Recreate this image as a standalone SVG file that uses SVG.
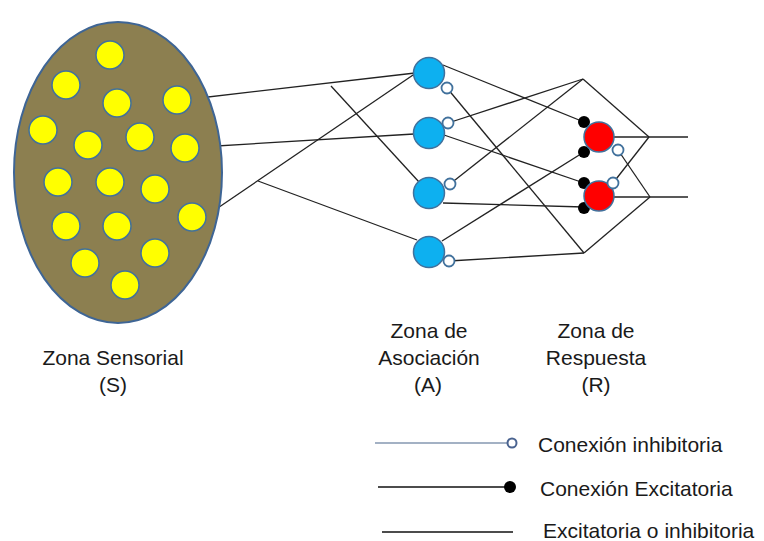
<svg xmlns="http://www.w3.org/2000/svg" width="764" height="541" viewBox="0 0 764 541">
<style>
.bg{fill:#ffffff}
.s{fill:#FFFF00;stroke:#41719C;stroke-width:1.5}
.a{fill:#0DB0F0;stroke:#41719C;stroke-width:1.5}
.r{fill:#FF0000;stroke:#41719C;stroke-width:1.5}
.inh{fill:#ffffff;stroke:#41719C;stroke-width:1.8}
.exc{fill:#000000}
.ln{stroke:#222222;stroke-width:1.3;fill:none}
.t{font-family:"Liberation Sans",Arial,sans-serif;font-size:21px;fill:#1a1a1a;text-anchor:middle}
.lt{font-family:"Liberation Sans",Arial,sans-serif;font-size:21px;fill:#1a1a1a}
</style>
<rect class="bg" x="0" y="0" width="764" height="541"/>
<g id="connectors">
<line class="ln" x1="191" y1="99" x2="415" y2="73"/>
<line class="ln" x1="331" y1="86" x2="419" y2="182"/>
<line class="ln" x1="200" y1="147" x2="414" y2="134"/>
<line class="ln" x1="206" y1="216" x2="416" y2="73"/>
<line class="ln" x1="258" y1="181" x2="417" y2="240"/>
<line class="ln" x1="443" y1="65" x2="584" y2="122"/>
<line class="ln" x1="447" y1="88" x2="584" y2="253"/>
<line class="ln" x1="448" y1="123" x2="583" y2="79"/>
<line class="ln" x1="444" y1="135" x2="584" y2="183"/>
<line class="ln" x1="450" y1="184" x2="583" y2="79"/>
<line class="ln" x1="443" y1="203" x2="584" y2="207"/>
<line class="ln" x1="442" y1="241" x2="584" y2="152"/>
<line class="ln" x1="449" y1="261" x2="584" y2="253"/>
<line class="ln" x1="583" y1="79" x2="649" y2="137"/>
<line class="ln" x1="584" y1="253" x2="650" y2="197"/>
<line class="ln" x1="599" y1="137" x2="688" y2="137"/>
<line class="ln" x1="599" y1="197" x2="688" y2="197"/>
<line class="ln" x1="618" y1="150" x2="650" y2="197"/>
<line class="ln" x1="613" y1="183" x2="649" y2="137"/>
</g>
<g id="sensory-zone">
<ellipse cx="118" cy="172.5" rx="104" ry="150.5" fill="#8C7F50" stroke="#3E6595" stroke-width="2"/>
<circle class="s" cx="110" cy="55" r="14"/>
<circle class="s" cx="66" cy="85" r="14"/>
<circle class="s" cx="117" cy="103" r="14"/>
<circle class="s" cx="177" cy="100" r="14"/>
<circle class="s" cx="43" cy="130" r="14"/>
<circle class="s" cx="88" cy="145" r="14"/>
<circle class="s" cx="140" cy="137" r="14"/>
<circle class="s" cx="185" cy="148" r="14"/>
<circle class="s" cx="58" cy="182" r="14"/>
<circle class="s" cx="110" cy="182" r="14"/>
<circle class="s" cx="155" cy="189" r="14"/>
<circle class="s" cx="192" cy="217" r="14"/>
<circle class="s" cx="66" cy="226" r="14"/>
<circle class="s" cx="117" cy="226" r="14"/>
<circle class="s" cx="85" cy="263" r="14"/>
<circle class="s" cx="155" cy="253" r="14"/>
<circle class="s" cx="125" cy="285" r="14"/>
</g>
<g id="a1"><circle class="a" cx="429" cy="73" r="15.5"/><circle class="inh" cx="447" cy="88" r="5.5"/></g>
<g id="a2"><circle class="a" cx="429" cy="133" r="15.5"/><circle class="inh" cx="448" cy="123" r="5.5"/></g>
<g id="a3"><circle class="a" cx="429" cy="193" r="15.5"/><circle class="inh" cx="450" cy="184" r="5.5"/></g>
<g id="a4"><circle class="a" cx="429" cy="252" r="15.5"/><circle class="inh" cx="449" cy="261" r="5.5"/></g>
<g id="r1"><circle class="exc" cx="584" cy="122" r="6"/><circle class="exc" cx="584" cy="152" r="6"/><circle class="r" cx="599" cy="137" r="15"/><circle class="inh" cx="618" cy="150" r="5.5"/></g>
<g id="r2"><circle class="exc" cx="584" cy="183" r="6"/><circle class="exc" cx="584" cy="208" r="6"/><circle class="r" cx="599" cy="196" r="15"/><circle class="inh" cx="613" cy="183" r="5.5"/></g>
<g id="labels">
<text class="t" x="113" y="365">Zona Sensorial</text>
<text class="t" x="113" y="392">(S)</text>
<text class="t" x="429" y="338">Zona de</text>
<text class="t" x="429" y="365">Asociación</text>
<text class="t" x="428" y="392">(A)</text>
<text class="t" x="596" y="338">Zona de</text>
<text class="t" x="596" y="365">Respuesta</text>
<text class="t" x="596" y="392">(R)</text>
</g>
<g id="legend">
<line x1="375" y1="443" x2="507" y2="443" stroke="#8497B0" stroke-width="1.5"/>
<circle cx="512" cy="443" r="4.5" fill="#ffffff" stroke="#4A6390" stroke-width="2"/>
<text class="lt" x="538" y="452">Conexión inhibitoria</text>
<line x1="378" y1="487" x2="507" y2="487" stroke="#111111" stroke-width="1.5"/>
<circle cx="510" cy="487" r="6" fill="#000000"/>
<text class="lt" x="540" y="496">Conexión Excitatoria</text>
<line x1="382" y1="532" x2="513" y2="532" stroke="#111111" stroke-width="1.5"/>
<text class="lt" x="543" y="538">Excitatoria o inhibitoria</text>
</g>
</svg>
